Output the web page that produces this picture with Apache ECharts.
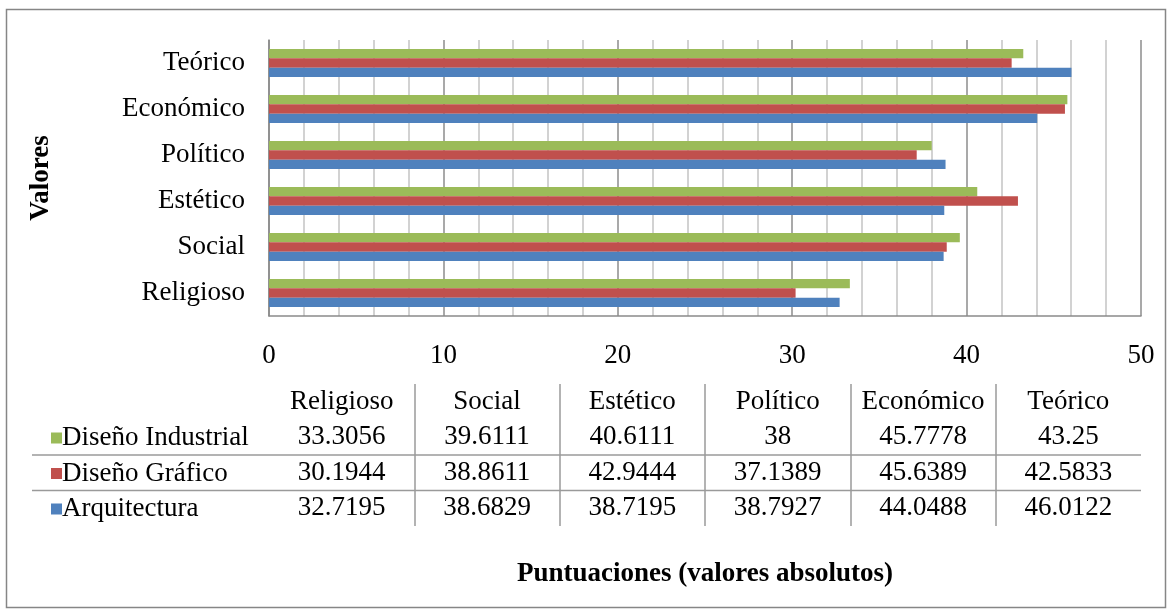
<!DOCTYPE html>
<html>
<head>
<meta charset="utf-8">
<script src="https://cdn.jsdelivr.net/npm/echarts@6/dist/echarts.min.js"></script>
<style>
  html, body { margin: 0; padding: 0; background: #fff; }
  #chart { width: 1172px; height: 613px; }
</style>
</head>
<body>
<div id="chart"></div>
<script>
// data
const categories = ['Religioso', 'Social', 'Estético', 'Político', 'Económico', 'Teórico'];
const seriesNames = ['Arquitectura', 'Diseño Gráfico', 'Diseño Industrial'];
const arquitectura = [32.7195, 38.6829, 38.7195, 38.7927, 44.0488, 46.0122];
const disenoGrafico = [30.1944, 38.8611, 42.9444, 37.1389, 45.6389, 42.5833];
const disenoIndustrial = [33.3056, 39.6111, 40.6111, 38, 45.7778, 43.25];
const xTicks = [0, 10, 20, 30, 40, 50];

const colors = ['#4F81BD', '#C0504D', '#9BBB59'];
const values = [arquitectura, disenoGrafico, disenoIndustrial];
const font = 'Liberation Serif';
const fs = 27;

const chart = echarts.init(document.getElementById('chart'));

// table cells: header row + one row per series, [column, row, text]
const headerKey = ' ';
const tableRows = seriesNames.concat([headerKey]);
const cells = [];
categories.forEach((c, j) => cells.push([j, tableRows.indexOf(headerKey), c]));
values.forEach((arr, i) => {
    arr.forEach((v, j) => cells.push([j, i, String(v)]));
});

// ECharts stacks horizontal bar series top-down, so feed them reversed
// to get green on top and blue at the bottom of each group
const barOrder = [2, 1, 0];

function renderCell(params, api) {
    const p = api.coord([api.value(0), api.value(1)]);
    return {
        type: 'text',
        x: p[0],
        y: p[1],
        style: {
            text: cells[params.dataIndex][2],
            fill: '#000',
            font: fs + 'px "' + font + '"',
            align: 'center',
            verticalAlign: 'middle'
        }
    };
}

chart.setOption({
    animation: false,
    textStyle: { fontFamily: font },
    grid: [
        { left: 269, right: 31, top: 40, bottom: 297 },
        { left: 269, right: 31, top: 384, height: 142 }
    ],
    legend: {
        orient: 'vertical',
        left: 46,
        top: 418,
        selectedMode: false,
        icon: 'rect',
        itemWidth: 11,
        itemHeight: 11,
        itemGap: 5.5,
        data: barOrder.map(i => seriesNames[i]),
        textStyle: { color: '#000', fontSize: fs, fontFamily: font, lineHeight: 30, padding: [0, 0, 0, -5] }
    },
    xAxis: [{
        gridIndex: 0,
        type: 'value',
        min: xTicks[0],
        max: xTicks[xTicks.length - 1],
        interval: 10,
        axisLine: { show: true, lineStyle: { color: '#8a8a8a', width: 1.5 } },
        axisTick: { show: false },
        axisLabel: { color: '#000', fontSize: fs, fontFamily: font, margin: 26 },
        splitLine: { show: true, lineStyle: { color: '#8c8c8c', width: 1.5 } },
        minorTick: { show: false, splitNumber: 5 },
        minorSplitLine: { show: true, lineStyle: { color: '#c4c4c4', width: 1.5 } },
        name: 'Puntuaciones (valores absolutos)',
        nameLocation: 'middle',
        nameGap: 245,
        nameTextStyle: { color: '#000', fontSize: fs, fontWeight: 'bold', fontFamily: font }
    }, {
        gridIndex: 1,
        type: 'category',
        data: categories,
        axisLine: { show: false },
        axisTick: { show: false },
        axisLabel: { show: false },
        splitLine: {
            show: true, showMinLine: false, showMaxLine: false,
            lineStyle: { color: '#9a9a9a', width: 1.5 }
        }
    }],
    yAxis: [{
        gridIndex: 0,
        type: 'category',
        data: categories,
        axisLine: { show: true, lineStyle: { color: '#8a8a8a', width: 1.5 } },
        axisTick: { show: false },
        axisLabel: { color: '#000', fontSize: fs, fontFamily: font, margin: 24 },
        name: 'Valores',
        nameLocation: 'middle',
        nameGap: 214,
        nameRotate: 90,
        nameTextStyle: { color: '#000', fontSize: fs, fontWeight: 'bold', fontFamily: font }
    }, {
        gridIndex: 1,
        type: 'category',
        data: tableRows,
        axisLine: { show: false },
        axisTick: { show: false },
        axisLabel: { show: false },
        splitLine: { show: false }
    }],
    series: barOrder.map(i => ({
        name: seriesNames[i],
        type: 'bar',
        xAxisIndex: 0,
        yAxisIndex: 0,
        data: values[i],
        barGap: '0%',
        barCategoryGap: '39%',
        itemStyle: { color: colors[i] }
    })).concat([{
        name: 'tabla',
        type: 'custom',
        xAxisIndex: 1,
        yAxisIndex: 1,
        silent: true,
        clip: false,
        data: cells.map(c => [c[0], c[1]]),
        renderItem: renderCell
    }]),
    graphic: [
        {
            type: 'rect',
            shape: { x: 6.5, y: 9.5, width: 1159, height: 598 },
            style: { fill: 'none', stroke: '#868686', lineWidth: 1.5 },
            silent: true
        },
        {
            type: 'line',
            shape: { x1: 32, y1: 455, x2: 1141, y2: 455 },
            style: { stroke: '#9a9a9a', lineWidth: 1.5 },
            silent: true
        },
        {
            type: 'line',
            shape: { x1: 32, y1: 490.5, x2: 1141, y2: 490.5 },
            style: { stroke: '#9a9a9a', lineWidth: 1.5 },
            silent: true
        }
    ]
});
</script>
</body>
</html>
